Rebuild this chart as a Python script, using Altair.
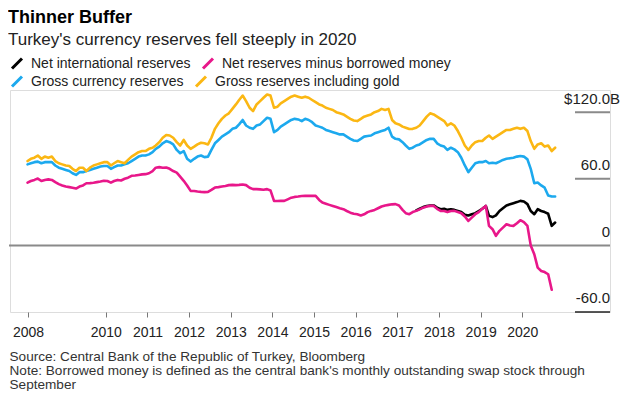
import altair as alt
import pandas as pd

FONT = "Liberation Sans"

series_names = [
    "Net international reserves",
    "Net reserves minus borrowed money",
    "Gross currency reserves",
    "Gross reserves including gold",
]
series_colors = ["#000000", "#e8178a", "#1ca9ee", "#fbb713"]

# Monthly values, $ billions
net_start = "2017-06"
net_vals = [
    31.5, 33, 34.5, 35.5, 36, 36, 34,
    32.6, 33, 32, 32.6, 32, 31, 30, 27.5, 27, 28.1, 29, 31,
    33, 35.6, 26.6, 25.5, 27, 31, 33.5, 36, 37, 38, 39, 40.1,
    39.5, 37.2, 31, 28.1, 32.6, 31, 30, 28.5, 17.6, 20.6,
]

minus_start = "2008-02"
minus_vals = [
    56.6, 58, 59, 60.2, 58, 59, 59.5, 59, 57, 55.2, 54,
    53, 52.5, 52, 51.2, 53, 54, 56, 56.1, 56.5, 57, 57.5, 58.2,
    58, 56.6, 58, 59, 58.5, 60, 61, 62.7, 63, 63.5, 64, 64.2,
    65, 67, 70, 70.5, 70, 70.2, 69, 67, 65.6, 62, 58.2, 54,
    49.1, 49, 48.5, 48.2, 48, 48.2, 50, 52.1, 52.5, 53, 53.5, 54.3,
    54.5, 54.3, 54.5, 54.8, 54.3, 52, 50.7, 50.7, 50.5, 50.2, 50.7, 49.5,
    40.1, 40, 40.1, 40.1, 41.5, 43, 43.7, 44, 44.5, 44.6, 44.6, 44.6,
    44.6, 41, 38.6, 37.5, 36.5, 35.5, 34.5, 33.5, 32.6, 31, 29.5, 28.5,
    28, 27, 28, 30, 31.1, 32, 33.5, 35, 36, 36.5, 37, 37.2,
    36, 32, 29, 28.1, 30, 31.1, 32.5, 34, 35, 35.6, 35.6, 33,
    31.1, 31, 30, 31, 31.1, 30, 29, 26, 22.1, 25, 28.1, 30,
    33, 35.6, 17.6, 14.6, 8.6, 13.1, 16, 19.1, 18, 17.6, 20, 22.7,
    21, 17.6, 0, -8, -20, -23, -24, -26, -40,
]

gross_start = "2008-02"
gross_vals = [
    73, 74, 75, 75.5, 74, 75, 75, 75, 72, 70, 69,
    68, 67, 65, 63.5, 66, 66, 67, 68, 69, 70, 71, 71.5,
    71.5, 69, 70.5, 72, 72, 73, 74, 76, 78, 80, 81, 81,
    82, 84, 87, 89, 92, 94, 93, 91, 86, 83, 85, 78,
    75.5, 78, 80, 81, 79.5, 80, 86, 92, 95, 98, 100, 102,
    105, 106, 109, 113, 108, 106, 105, 108, 109, 112, 115, 114,
    102, 104, 107, 109, 111, 113, 114, 113.5, 112, 114, 113, 111,
    108, 107, 106, 104, 103, 102, 101, 100, 100, 98, 96, 94.5,
    94, 96, 98, 98.5, 99, 101, 102, 103, 104, 106, 98, 96,
    95.5, 93, 90, 87, 88, 90, 91, 93, 95, 96, 96, 92,
    90, 89, 86, 88, 86.5, 84, 79, 72, 66, 70, 74, 75,
    75, 76, 74, 74.5, 74, 75.5, 77, 78, 78.5, 79, 80, 80.5,
    80, 77.5, 69, 56, 56.6, 54, 52, 45, 44, 44,
]

gold_start = "2008-02"
gold_vals = [
    76, 78, 79, 81, 78, 80, 79, 80, 76, 74, 73,
    72, 71.5, 69, 67, 70, 70, 67, 70, 72, 73, 74, 75,
    75, 72, 74, 76, 75, 74, 77, 80, 82, 84, 85, 85,
    87, 88, 90, 93, 97, 99.5, 99, 97, 93, 90, 95, 90,
    87, 89, 91, 92.5, 92, 91, 97, 105, 110, 114, 117, 119,
    123, 127, 131, 135, 130, 124, 121, 127, 130, 133, 136, 135,
    124, 125, 128, 130, 132, 134, 135, 134, 133, 134, 133, 131,
    129, 127, 126, 124, 123, 122, 120, 119, 118, 116, 114, 112.5,
    112, 114, 116, 117, 118, 120, 121, 123, 122, 123, 113, 110,
    109, 107, 106, 104.8, 105, 106, 108, 112, 116, 119, 118, 116,
    114, 112, 108, 110, 108, 103, 97, 90, 86, 90, 93, 94,
    94, 97, 99, 96, 98, 100, 102, 104, 104, 105, 106, 105,
    106, 103, 94, 87, 91, 92, 89, 90, 85, 88,
]

y_ticks = [120, 60, 0, -60]
y_tick_labels = ["$120.0", "60.0", "0", "-60.0"]
y_unit_suffix = "B"

year_ticks = [2010, 2011, 2012, 2013, 2014, 2015, 2016, 2017, 2018, 2019, 2020]

source_lines = [
    "Source: Central Bank of the Republic of Turkey, Bloomberg",
    "Note: Borrowed money is defined as the central bank's monthly outstanding swap stock through",
    "September",
]


def frame(name, start, vals):
    dates = pd.date_range(start + "-01", periods=len(vals), freq="MS") + pd.Timedelta(days=14)
    return pd.DataFrame({"date": dates.strftime("%Y-%m-%d"), "value": vals, "series": name})


net_df = pd.concat(
    [frame(series_names[0], net_start, net_vals), frame(series_names[1], minus_start, minus_vals)],
    ignore_index=True,
)
gross_df = pd.concat(
    [frame(series_names[2], gross_start, gross_vals), frame(series_names[3], gold_start, gold_vals)],
    ignore_index=True,
)

ticks_df = pd.DataFrame({"v": y_ticks, "label": y_tick_labels})
W, H = 600, 222

x_scale = alt.Scale(
    domain=[alt.DateTime(year=2007, month=9, date=14), alt.DateTime(year=2022, month=2, date=8)]
)
y_scale = alt.Scale(domain=[-60, 140], nice=False, zero=False)

x_axis = alt.Axis(
    values=[alt.DateTime(year=2008, month=2, date=19)]
    + [alt.DateTime(year=y, month=1, date=1) for y in year_ticks],
    format="%Y",
    domain=False,
    grid=False,
    ticks=True,
    tickSize=5,
    tickColor="#777777",
    tickWidth=1,
    labelFontSize=14,
    labelColor="#222222",
    labelPadding=8,
    labelFlush=False,
    labelFont=FONT,
    title=source_lines,
    titleAnchor="start",
    titleAlign="left",
    titleX=-1,
    titleY=48,
    titleBaseline="alphabetic",
    titleFontSize=13.6,
    titleFontWeight="normal",
    titleColor="#333333",
    titleLineHeight=14,
    titleFont=FONT,
)


def legend_row(y):
    return alt.Legend(
        title=None,
        orient="none",
        legendX=0,
        legendY=y,
        direction="horizontal",
        symbolType="M-1,1L1,-1",
        symbolSize=100,
        symbolStrokeWidth=3,
        labelFontSize=14,
        labelFont=FONT,
        labelColor="#222222",
        labelOffset=7,
        labelLimit=400,
        columnPadding=6,
    )


grid_short = (
    alt.Chart(ticks_df)
    .transform_filter("datum.v > 0")
    .mark_rule(color="#8a8a8a", strokeWidth=2)
    .encode(y=alt.Y("v:Q", scale=y_scale, axis=None), x=alt.value(565), x2=alt.value(W))
)
grid_bottom = (
    alt.Chart(ticks_df)
    .transform_filter("datum.v < 0")
    .mark_rule(color="#222222", strokeWidth=1.6)
    .encode(y=alt.Y("v:Q", scale=y_scale, axis=None), x=alt.value(565), x2=alt.value(W))
)
zero_line = (
    alt.Chart(ticks_df)
    .transform_filter("datum.v == 0")
    .mark_rule(color="#8a8a8a", strokeWidth=2)
    .encode(y=alt.Y("v:Q", scale=y_scale, axis=None), x=alt.value(-1), x2=alt.value(W))
)

line_style = dict(strokeWidth=2.6, strokeJoin="round", strokeCap="round")

net_lines = (
    alt.Chart(net_df)
    .mark_line(**line_style)
    .encode(
        x=alt.X("date:T", scale=x_scale, axis=x_axis),
        y=alt.Y("value:Q", scale=y_scale, axis=None),
        color=alt.Color(
            "series:N",
            scale=alt.Scale(domain=series_names[:2], range=series_colors[:2]),
            legend=legend_row(-33.5),
        ),
        order=alt.Order("date:T"),
    )
)
gross_lines = (
    alt.Chart(gross_df)
    .mark_line(**line_style)
    .encode(
        x=alt.X("date:T", scale=x_scale, axis=x_axis),
        y=alt.Y("value:Q", scale=y_scale, axis=None),
        stroke=alt.Stroke(
            "series:N",
            scale=alt.Scale(domain=series_names[2:], range=series_colors[2:]),
            legend=legend_row(-15.5),
        ),
        order=alt.Order("date:T"),
    )
)

tick_text = (
    alt.Chart(ticks_df)
    .mark_text(align="right", baseline="middle", dy=-13.7, fontSize=15, font=FONT, color="#222222")
    .encode(y=alt.Y("v:Q", scale=y_scale, axis=None), x=alt.value(W), text="label:N")
)
suffix_text = (
    alt.Chart(ticks_df)
    .transform_filter("datum.v == 120")
    .mark_text(align="left", baseline="middle", dy=-13.7, fontSize=15, font=FONT, color="#222222")
    .encode(y=alt.Y("v:Q", scale=y_scale, axis=None), x=alt.value(W), text=alt.value(y_unit_suffix))
)

chart = (
    alt.layer(grid_short, grid_bottom, zero_line, gross_lines, net_lines, tick_text, suffix_text)
    .resolve_legend(color="independent", stroke="independent")
    .properties(
        width=W,
        height=H,
        padding={"left": 0, "top": 1, "right": 0, "bottom": 0},
        title=alt.Title(
            text="Thinner Buffer",
            subtitle="Turkey's currency reserves fell steeply in 2020",
            anchor="start",
            fontSize=18,
            fontWeight="bold",
            font=FONT,
            color="#000000",
            subtitleFontSize=17,
            subtitleFont=FONT,
            subtitleColor="#222222",
            subtitlePadding=5,
            offset=8.5,
        ),
    )
    .configure_view(strokeWidth=0)
    .configure(font=FONT)
)

chart.save("out.html", embed_options={"renderer": "svg", "actions": False})
